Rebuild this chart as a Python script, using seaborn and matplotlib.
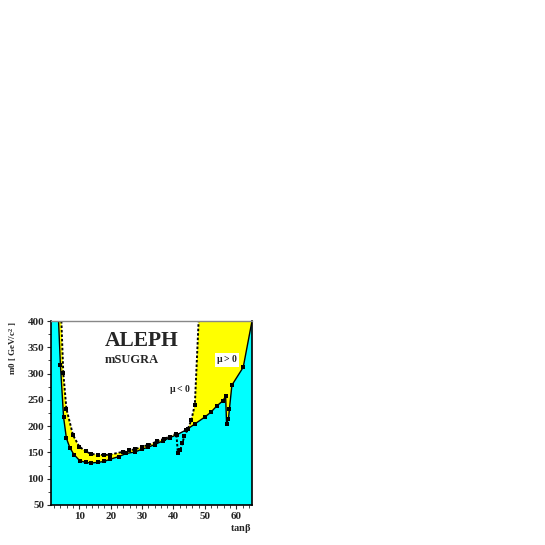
import matplotlib
matplotlib.use("Agg")
import matplotlib.pyplot as plt
from matplotlib.ticker import MultipleLocator
import seaborn as sns
import pandas as pd

# mu > 0 exclusion contour (solid)
tanb_pos = [3.4, 4.0, 5.0, 5.9, 7.0, 8.3, 10.2, 12.1, 13.8, 15.9, 18.0, 19.8, 22.5,
            25.0, 27.8, 29.9, 32.0, 34.0, 36.7, 38.8, 41.2, 44.1, 47.0, 49.9,
            51.8, 53.9, 55.7, 56.6, 56.9, 57.5, 57.8, 58.6, 62.2, 65.0]
m0_pos = [400, 316, 217, 177, 159, 146, 134, 131, 130, 131, 133, 137, 142,
          148, 151, 156, 160, 165, 172, 178, 184, 193, 205, 217,
          226, 239, 248, 257, 205, 214, 232, 278, 312, 400]

# mu < 0 exclusion contour (dashed)
tanb_neg = [4.3, 4.9, 5.9, 8.0, 10.0, 12.1, 13.8, 15.9, 18.0, 19.9, 23.8, 25.9,
            27.8, 29.9, 32.0, 34.8, 36.9, 39.0, 40.9, 41.4, 42.2, 42.8, 43.5,
            44.6, 45.7, 46.8, 48.0]
m0_neg = [400, 302, 233, 183, 161, 152, 147, 146, 145, 146, 151, 154,
          156, 161, 164, 171, 176, 180, 186, 149, 155, 168, 181,
          195, 212, 241, 400]

x_min, x_max = 1, 65
y_min, y_max = 50, 400

sns.set_style("ticks")
serif = ["Liberation Serif", "DejaVu Serif"]
plt.rcParams["font.family"] = serif
plt.rcParams["font.weight"] = "bold"
plt.rcParams["mathtext.fontset"] = "custom"
plt.rcParams["mathtext.rm"] = "Liberation Serif:bold"
plt.rcParams["mathtext.it"] = "Liberation Serif:bold"

pos = pd.DataFrame({"tanb": tanb_pos, "m0": m0_pos})
neg = pd.DataFrame({"tanb": tanb_neg, "m0": m0_neg})

fig = plt.figure(figsize=(5.45, 5.45), dpi=100)
ax = fig.add_axes([0.0936, 0.0734, 0.3688, 0.3376])
ax.set_facecolor("yellow")

# region inside the mu<0 contour is allowed -> white
ax.fill(neg["tanb"], neg["m0"], color="white", lw=0, zorder=1)
# region below the mu>0 contour -> cyan
ax.fill(list(pos["tanb"]) + [x_max, x_min, x_min],
        list(pos["m0"]) + [y_min, y_min, y_max],
        color="cyan", lw=0, zorder=2)

sns.lineplot(data=neg, x="tanb", y="m0", sort=False, ax=ax, color="black",
             lw=1.4, linestyle=(0, (1.3, 1.0)), marker="s", markersize=3.4,
             markeredgewidth=0, markevery=slice(1, -1), zorder=3)
sns.lineplot(data=pos, x="tanb", y="m0", sort=False, ax=ax, color="black",
             lw=1.0, marker="s", markersize=3.4, markeredgewidth=0,
             markevery=slice(1, -1), zorder=4)

ax.set_xlim(x_min, x_max)
ax.set_ylim(y_min, y_max)
ax.xaxis.set_major_locator(MultipleLocator(10))
ax.xaxis.set_minor_locator(MultipleLocator(2))
ax.yaxis.set_major_locator(MultipleLocator(50))
ax.yaxis.set_minor_locator(MultipleLocator(25))
ax.tick_params(which="major", direction="out", length=3, width=0.8,
               labelsize=8, pad=2)
ax.tick_params(which="minor", direction="out", length=2, width=0.6)
ax.set_yticks([50, 100, 150, 200, 250, 300, 350, 400])
ax.set_xticks([10, 20, 30, 40, 50, 60])
ax.set_xticklabels(["10", "20", "30", "40", "50", "60"], fontweight="bold")
ax.set_yticklabels([str(v) for v in range(50, 401, 50)], fontweight="bold")

for side in ["left", "bottom", "right"]:
    ax.spines[side].set_color("black")
    ax.spines[side].set_linewidth(1.2)
ax.spines["top"].set_color("#888888")
ax.spines["top"].set_linewidth(1.0)
for sp in ax.spines.values():
    sp.set_zorder(6)

ax.set_xlabel(r"tan$\beta$", fontsize=7.5, fontweight="bold", loc="right",
              labelpad=1)
ax.set_ylabel(r"m0 [ GeV/c$^2$ ]", fontsize=6.5, fontweight="bold", loc="top",
              labelpad=6)

ax.text(30.0, 362, "ALEPH", fontsize=15.5, fontweight="bold", ha="center",
        va="center", zorder=7)
ax.text(18.0, 326, "mSUGRA", fontsize=9, fontweight="bold", ha="left",
        va="center", zorder=7)
ax.text(42.0, 270, r"$\mu$ < 0", fontsize=7, ha="center", va="center",
        zorder=7)
ax.text(57.0, 326, r"$\mu$ > 0", fontsize=7, ha="center", va="center",
        zorder=7, bbox=dict(boxstyle="square,pad=0.05", fc="white", ec="none"))

fig.savefig("out.png", dpi=100)
